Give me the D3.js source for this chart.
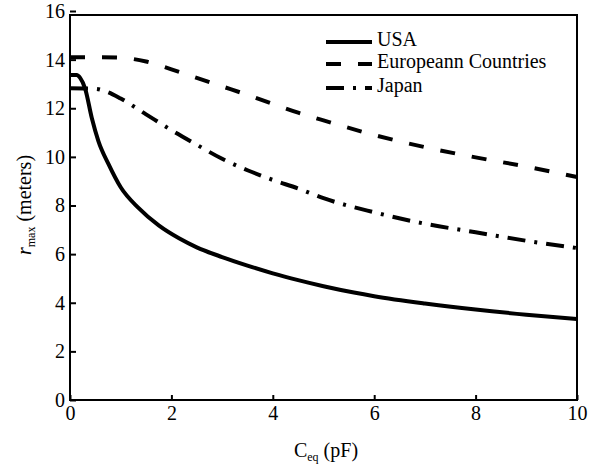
<!DOCTYPE html>
<html>
<head>
  <meta charset="utf-8">
  <script src="https://d3js.org/d3.v7.min.js"></script>
</head>
<body style="margin:0; background:#fff">
<svg id="chart"></svg>
<script>
  var width = 606;
  var height = 470;
  const FONT = "Liberation Serif";

  // data: [C_eq (pF), r_max (m)]
  const usa = [[0, 13.37], [0.13, 13.37], [0.2, 13.25], [0.3, 12.8], [0.43, 11.6], [0.56, 10.65],
    [0.76, 9.7], [1, 8.75], [1.35, 7.9], [1.75, 7.18], [2.15, 6.65], [2.5, 6.28], [3, 5.88],
    [3.5, 5.53], [4, 5.21], [4.5, 4.93], [5, 4.68], [5.6, 4.42], [6, 4.27], [7, 3.97], [8, 3.72],
    [9, 3.51], [10, 3.33]];
  const europe = [[0, 14.1], [0.5, 14.1], [1, 14.08], [1.5, 13.92], [2, 13.6], [2.5, 13.25],
    [3, 12.9], [3.5, 12.55], [4, 12.18], [4.5, 11.82], [5, 11.5], [6, 10.9], [7, 10.4],
    [8, 9.98], [9, 9.6], [10, 9.17]];
  const japan = [[0, 12.82], [0.5, 12.8], [0.7, 12.7], [1, 12.4], [1.5, 11.75], [2, 11.1],
    [2.5, 10.5], [3, 9.92], [3.5, 9.45], [4, 9.05], [4.5, 8.7], [5, 8.3], [6, 7.72], [7, 7.25],
    [8, 6.9], [9, 6.55], [10, 6.25]];

  const seriesNames = ["USA", "Europeann Countries", "Japan"];
  const xTicks = [0, 2, 4, 6, 8, 10];
  const yTicks = [0, 2, 4, 6, 8, 10, 12, 14, 16];

  const styles = [
    { dash: null },
    { dash: "15,17" },
    { dash: "18,9,3,9" }
  ];

  var svg = d3.select("#chart")
    .attr("width", width)
    .attr("height", height)
    .style("font-family", FONT);

  var plot = { left: 70, right: 577, top: 15, bottom: 400 };

  var x = d3.scaleLinear().domain([0, 10]).range([plot.left, plot.right]);
  var y = d3.scaleLinear().domain([0, 16]).range([400, 11]);

  // frame
  svg.append("rect")
    .attr("x", plot.left)
    .attr("y", plot.top)
    .attr("width", plot.right - plot.left)
    .attr("height", plot.bottom - plot.top)
    .attr("fill", "none")
    .attr("stroke", "#000")
    .attr("stroke-width", 2);

  var xAxis = svg.append("g")
    .attr("transform", "translate(0," + plot.bottom + ")")
    .call(d3.axisBottom(x).tickValues(xTicks).tickFormat(d3.format("d"))
      .tickSizeInner(-5).tickSizeOuter(0).tickPadding(6));

  var yAxis = svg.append("g")
    .attr("transform", "translate(" + plot.left + ",0)")
    .call(d3.axisLeft(y).tickValues(yTicks).tickFormat(d3.format("d"))
      .tickSizeInner(-6).tickSizeOuter(0).tickPadding(5));

  [xAxis, yAxis].forEach(function(a) {
    a.attr("font-family", null).attr("font-size", null);
    a.select(".domain").remove();
    a.selectAll("line").attr("stroke", "#000").attr("stroke-width", 2);
    a.selectAll("text")
      .style("font-family", FONT)
      .style("font-size", "20px")
      .attr("fill", "#000");
  });

  var line = d3.line()
    .x(d => x(d[0]))
    .y(d => y(d[1]))
    .curve(d3.curveMonotoneX);

  [usa, europe, japan].forEach(function(s, i) {
    svg.append("path")
      .datum(s)
      .attr("d", line)
      .attr("fill", "none")
      .attr("stroke", "#000")
      .attr("stroke-width", 4)
      .attr("stroke-dasharray", styles[i].dash);
  });

  // legend
  var legendRows = [42, 64, 88];
  seriesNames.forEach(function(name, i) {
    svg.append("line")
      .attr("x1", 326).attr("x2", 372)
      .attr("y1", legendRows[i]).attr("y2", legendRows[i])
      .attr("stroke", "#000")
      .attr("stroke-width", 4)
      .attr("stroke-dasharray", styles[i].dash);
    svg.append("text")
      .attr("x", 377)
      .attr("y", legendRows[i] + 4)
      .style("font-family", FONT)
      .style("font-size", "20px")
      .text(name);
  });

  // axis titles
  var xt = svg.append("text")
    .attr("x", 326)
    .attr("y", 457)
    .attr("text-anchor", "middle")
    .style("font-family", FONT)
    .style("font-size", "20px");
  xt.append("tspan").text("C");
  xt.append("tspan").attr("dy", 4).style("font-size", "12px").text("eq");
  xt.append("tspan").attr("dy", -4).text(" (pF)");

  var yt = svg.append("text")
    .attr("transform", "translate(31,205) rotate(-90)")
    .attr("text-anchor", "middle")
    .style("font-family", FONT)
    .style("font-size", "20px");
  yt.append("tspan").style("font-style", "italic").text("r");
  yt.append("tspan").attr("dy", 4).style("font-size", "12px").text("max");
  yt.append("tspan").attr("dy", -4).text(" (meters)");
</script>
</body>
</html>
